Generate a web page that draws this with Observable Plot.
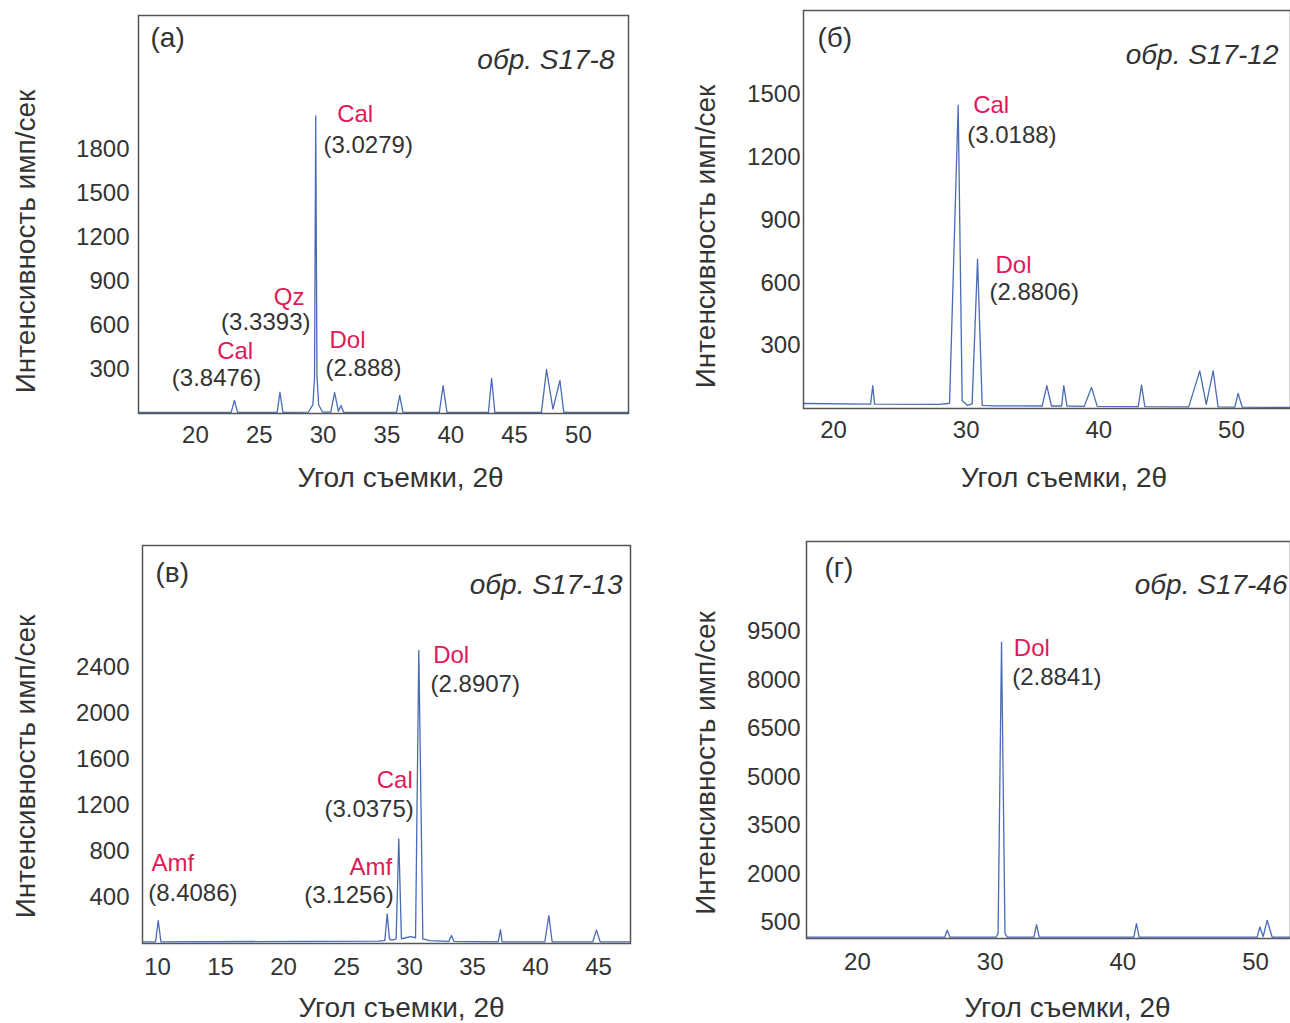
<!DOCTYPE html>
<html><head><meta charset="utf-8">
<script src="https://cdn.jsdelivr.net/npm/d3@7"></script>
<script src="https://cdn.jsdelivr.net/npm/@observablehq/plot@0.6"></script>
<style>
html,body{margin:0;padding:0;background:#fff;}
#root{position:relative;width:1290px;height:1023px;overflow:hidden;background:#fff;}
#root > svg{position:absolute;}
</style></head><body><div id="root"></div>
<script>
// ---------- data ----------
const yLabel = "Интенсивность имп/сек";
const xLabel = "Угол съемки, 2θ";

// (а) обр. S17-8
const angleA = [15.54, 22.8, 23.05, 23.3, 26.4, 26.62, 26.85, 28.85, 29.2, 29.33, 29.42, 29.52, 29.65, 29.95, 30.6, 30.9, 31.2, 31.4, 31.6, 35.75, 36.0, 36.25, 39.1, 39.4, 39.7, 42.95, 43.2, 43.45, 47.1, 47.5, 48.0, 48.55, 48.85, 53.92];
const intensityA = [8, 8, 90, 8, 8, 145, 8, 10, 60, 250, 2030, 250, 60, 10, 10, 143, 15, 55, 8, 8, 123, 8, 8, 190, 8, 8, 240, 8, 8, 300, 30, 225, 8, 8];
const xTicksA = [20, 25, 30, 35, 40, 45, 50];
const yTicksA = [300, 600, 900, 1200, 1500, 1800];
const labelTextA = ["Cal", "(3.0279)", "Qz", "(3.3393)", "Cal", "(3.8476)", "Dol", "(2.888)"];
const labelAngleA = [31.10, 30.03, 28.54, 29.01, 24.52, 25.15, 30.5, 30.19];
const labelIntensityA = [2039, 1827, 793, 623, 425, 239, 498, 307];
const labelAnchorA = ["start", "start", "end", "end", "end", "end", "start", "start"];

// (б) обр. S17-12
const angleB = [17.74, 22.8, 22.96, 23.1, 28.0, 28.75, 29.4, 29.7, 30.1, 30.45, 30.86, 31.21, 32.0, 35.73, 36.08, 36.43, 37.2, 37.36, 37.6, 38.9, 39.45, 39.88, 42.97, 43.22, 43.47, 46.78, 47.61, 48.1, 48.62, 48.99, 50.25, 50.5, 50.81, 54.45];
const intensityB = [24, 21, 109, 21, 20, 25, 1450, 37, 15, 22, 714, 15, 13, 12, 109, 12, 12, 109, 12, 10, 101, 10, 9, 112, 9, 8, 180, 20, 180, 8, 7, 72, 7, 5];
const xTicksB = [20, 30, 40, 50];
const yTicksB = [300, 600, 900, 1200, 1500];
const labelTextB = ["Cal", "(3.0188)", "Dol", "(2.8806)"];
const labelAngleB = [30.53, 30.08, 32.21, 31.76];
const labelIntensityB = [1449, 1305, 684, 556];
const labelAnchorB = ["start", "start", "start", "start"];

// (в) обр. S17-13
const angleC = [8.81, 9.85, 10.06, 10.27, 27.5, 28.04, 28.23, 28.41, 28.6, 28.94, 29.15, 29.36, 29.7, 30.1, 30.48, 30.74, 31.06, 31.6, 33.12, 33.33, 33.54, 37.04, 37.22, 37.35, 40.74, 41.06, 41.32, 44.55, 44.84, 45.13, 47.54];
const intensityC = [15, 15, 200, 15, 20, 25, 258, 40, 30, 40, 910, 40, 50, 60, 50, 2548, 40, 25, 18, 70, 18, 15, 119, 15, 15, 243, 15, 15, 119, 15, 15];
const xTicksC = [10, 15, 20, 25, 30, 35, 40, 45];
const yTicksC = [400, 800, 1200, 1600, 2000, 2400];
const labelTextC = ["Amf", "(8.4086)", "Amf", "(3.1256)", "Cal", "(3.0375)", "Dol", "(2.8907)"];
const labelAngleC = [9.52, 9.26, 28.63, 28.75, 30.26, 30.34, 31.88, 31.67];
const labelIntensityC = [693, 437, 664, 417, 1417, 1163, 2504, 2258];
const labelAnchorC = ["start", "start", "end", "end", "end", "end", "start", "start"];

// (г) обр. S17-46
const angleD = [16.16, 26.57, 26.77, 26.97, 30.45, 30.6, 30.86, 31.12, 31.3, 33.3, 33.5, 33.7, 40.83, 41.03, 41.23, 50.13, 50.33, 50.58, 50.88, 51.26, 52.64];
const intensityD = [40, 40, 254, 40, 40, 150, 9170, 150, 40, 40, 430, 40, 40, 460, 40, 40, 356, 60, 563, 40, 40];
const xTicksD = [20, 30, 40, 50];
const yTicksD = [500, 2000, 3500, 5000, 6500, 8000, 9500];
const labelTextD = ["Dol", "(2.8841)"];
const labelAngleD = [31.79, 31.66];
const labelIntensityD = [8961, 8083];
const labelAnchorD = ["start", "start"];

// ---------- drawing ----------
const FONT = "'Liberation Sans', Arial, Helvetica, sans-serif";
const PHASE_COLOR = "#e0195a";
const TEXT_COLOR = "#333333";
const LINE_COLOR = "#4a6bb5";
const root = document.getElementById("root");
const plain = d => String(d);

function panel(c) {
  const data = c.angle.map((a, i) => ({angle: a, intensity: c.intensity[i]}));
  const labels = c.labelText.map((t, i) => ({
    text: t, angle: c.labelAngle[i], intensity: c.labelIntensity[i],
    anchor: c.labelAnchor[i], phase: !t.startsWith("(")
  }));
  const labelMark = (anchor, phase) => Plot.text(
    labels.filter(d => d.anchor === anchor && d.phase === phase),
    {x: "angle", y: "intensity", text: "text", textAnchor: anchor, lineAnchor: "middle",
     fill: phase ? PHASE_COLOR : TEXT_COLOR, fontSize: 24});
  const svg = Plot.plot({
    width: c.width, height: c.height,
    marginLeft: c.ml, marginRight: c.mr, marginTop: c.mt, marginBottom: c.mb,
    style: {fontFamily: FONT, fontSize: "24px", color: TEXT_COLOR, background: "transparent", overflow: "visible"},
    x: {domain: c.xDomain, ticks: c.xTicks, tickFormat: plain, tickSize: 0, tickPadding: c.xPad, label: null},
    y: {domain: c.yDomain, ticks: c.yTicks, tickFormat: plain, tickSize: 0, tickPadding: c.yPad, label: null},
    marks: [
      Plot.line(data, {x: "angle", y: "intensity", stroke: LINE_COLOR, strokeWidth: 1.3}),
      Plot.frame({stroke: "#555", strokeWidth: 1.5}),
      labelMark("start", true), labelMark("start", false),
      labelMark("end", true), labelMark("end", false),
      Plot.text([c.tag], {text: d => d, frameAnchor: "top-left", textAnchor: "start", lineAnchor: "middle",
        dx: c.tagDx, dy: c.tagDy, fontSize: 28, fill: TEXT_COLOR}),
      Plot.text([c.sample], {text: d => d, frameAnchor: "top-right", textAnchor: "end", lineAnchor: "middle",
        dx: c.sDx, dy: c.sDy, fontSize: 28, fontStyle: "italic", fill: TEXT_COLOR}),
      Plot.text([yLabel], {text: d => d, frameAnchor: "left", textAnchor: "middle", lineAnchor: "middle", rotate: -90,
        dx: c.yLx, dy: c.yLy, fontSize: 28, fill: TEXT_COLOR}),
      Plot.text([xLabel], {text: d => d, frameAnchor: "bottom", textAnchor: "middle", lineAnchor: "middle",
        dx: c.xLx, dy: c.xLy, fontSize: 28, fill: TEXT_COLOR})
    ]
  });
  svg.style.left = c.left + "px";
  svg.style.top = c.top + "px";
  root.appendChild(svg);
}

panel({left: 0, top: 0, width: 645, height: 510, ml: 138, mr: 17, mt: 15, mb: 97,
  angle: angleA, intensity: intensityA, xDomain: [15.54, 53.92], yDomain: [0, 2714],
  xTicks: xTicksA, yTicks: yTicksA, xPad: 12, yPad: 9,
  labelText: labelTextA, labelAngle: labelAngleA, labelIntensity: labelIntensityA, labelAnchor: labelAnchorA,
  tag: "(а)", tagDx: 12, tagDy: 23, sample: "обр. S17-8", sDx: -14, sDy: 45,
  yLx: -112, yLy: 27, xLx: 17, xLy: 65});

panel({left: 645, top: 0, width: 645, height: 510, ml: 158, mr: 0, mt: 10, mb: 102,
  angle: angleB, intensity: intensityB, xDomain: [17.74, 54.45], yDomain: [0, 1903],
  xTicks: xTicksB, yTicks: yTicksB, xPad: 12, yPad: 3,
  labelText: labelTextB, labelAngle: labelAngleB, labelIntensity: labelIntensityB, labelAnchor: labelAnchorB,
  tag: "(б)", tagDx: 14, tagDy: 28, sample: "обр. S17-12", sDx: -12, sDy: 45,
  yLx: -97, yLy: 27, xLx: 17, xLy: 70});

panel({left: 0, top: 520, width: 645, height: 503, ml: 142, mr: 15, mt: 25, mb: 80,
  angle: angleC, intensity: intensityC, xDomain: [8.81, 47.54], yDomain: [0, 3461],
  xTicks: xTicksC, yTicks: yTicksC, xPad: 14, yPad: 13,
  labelText: labelTextC, labelAngle: labelAngleC, labelIntensity: labelIntensityC, labelAnchor: labelAnchorC,
  tag: "(в)", tagDx: 13, tagDy: 28, sample: "обр. S17-13", sDx: -8, sDy: 40,
  yLx: -116, yLy: 22, xLx: 15, xLy: 65});

panel({left: 645, top: 520, width: 645, height: 503, ml: 161, mr: 0, mt: 21, mb: 85,
  angle: angleD, intensity: intensityD, xDomain: [16.16, 52.64], yDomain: [0, 12280],
  xTicks: xTicksD, yTicks: yTicksD, xPad: 14, yPad: 6,
  labelText: labelTextD, labelAngle: labelAngleD, labelIntensity: labelIntensityD, labelAnchor: labelAnchorD,
  tag: "(г)", tagDx: 18, tagDy: 27, sample: "обр. S17-46", sDx: -3, sDy: 44,
  yLx: -100, yLy: 23, xLx: 19, xLy: 70});
</script>
</body></html>
